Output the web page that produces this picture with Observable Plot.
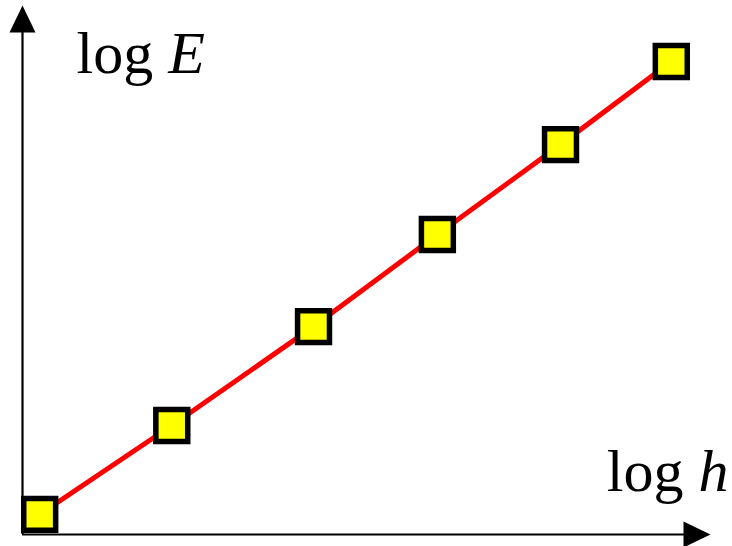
<!DOCTYPE html>
<html>
<head>
<meta charset="utf-8">
<script src="https://cdn.jsdelivr.net/npm/d3@7"></script>
<script src="https://cdn.jsdelivr.net/npm/@observablehq/plot@0.6"></script>
<style>
  html, body { margin: 0; padding: 0; background: #fff; }
</style>
</head>
<body>
<div id="chart"></div>
<script>
// log h and log E for the six measurements (plot units 0–100)
const logH = [2.5, 21.7, 42.3, 60.3, 78.2, 94.3];
const logE = [3.8, 20.6, 39.3, 56.7, 73.7, 89.4];

// axis labels
const xLabel = ["log", "h"];
const yLabel = ["log", "E"];

const points = logH.map((h, i) => ({h, e: logE[i]}));

// filled arrowhead, tip at the origin, pointing up
const arrowHead = {
  draw(ctx) {
    ctx.moveTo(0, 0);
    ctx.lineTo(13, 27);
    ctx.lineTo(-13, 27);
    ctx.closePath();
  }
};

const heads = [
  {x: 0, y: 100, rotate: 0},
  {x: 100, y: 0, rotate: 90}
];

const serif = "'Liberation Serif', 'Times New Roman', Times, serif";

const chart = Plot.plot({
  width: 732,
  height: 546,
  marginLeft: 22,
  marginRight: 22,
  marginTop: 5,
  marginBottom: 12,
  x: {domain: [0, 100], axis: null},
  y: {domain: [0, 100], axis: null},
  style: {background: "#fff", fontFamily: serif},
  marks: [
    // axes
    Plot.ruleX([0], {y1: 0, y2: 96, stroke: "black", strokeWidth: 2.2}),
    Plot.ruleY([0], {x1: 0, x2: 97, stroke: "black", strokeWidth: 2.2}),
    Plot.dot(heads, {x: "x", y: "y", rotate: "rotate", symbol: arrowHead, fill: "black", stroke: "none"}),
    // fitted line and data points
    Plot.line(points, {x: "h", y: "e", stroke: "#ff0000", strokeWidth: 5}),
    Plot.dot(points, {x: "h", y: "e", symbol: "square", r: 18, fill: "#ffff00", stroke: "black", strokeWidth: 5.5, strokeLinejoin: "miter"}),
    // axis labels
    Plot.text([yLabel.join(" ")], {frameAnchor: "top-left", dx: 54, dy: 67, textAnchor: "start", lineAnchor: "bottom", fontSize: 60, fontFamily: serif, fill: "black"}),
    Plot.text([xLabel.join(" ")], {frameAnchor: "bottom-right", dx: 18, dy: -44, textAnchor: "end", lineAnchor: "bottom", fontSize: 60, fontFamily: serif, fill: "black"})
  ]
});

// italicize the variable name in each axis label
d3.select(chart).selectAll("text").each(function() {
  const t = this.textContent;
  const parts = t.split(" ");
  if (parts.length === 2 && parts[0] === "log") {
    const el = d3.select(this);
    el.text(null);
    el.append("tspan").text("log ");
    el.append("tspan").attr("font-style", "italic").text(parts[1]);
  }
});

document.getElementById("chart").appendChild(chart);
</script>
</body>
</html>
